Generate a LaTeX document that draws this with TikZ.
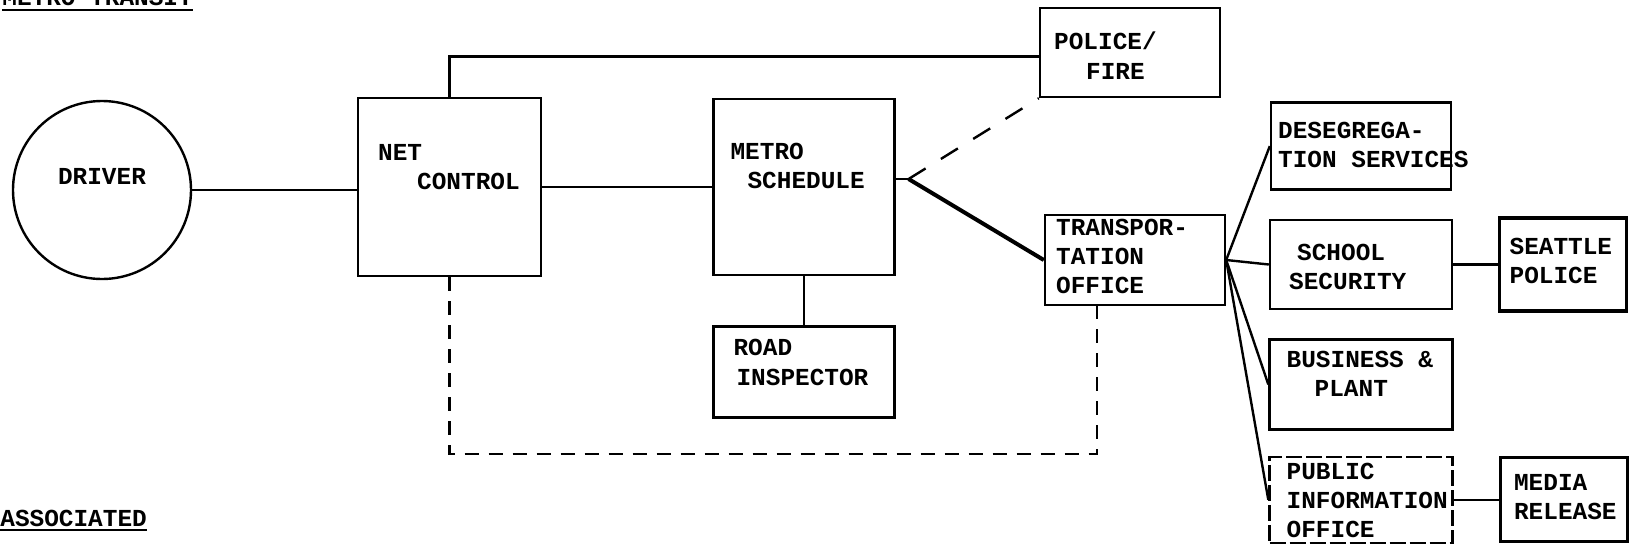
\documentclass[tikz,border=0pt]{standalone}
\usepackage{fontspec}
\setmonofont{Liberation Mono}
\usetikzlibrary{positioning}

\begin{document}
\begin{tikzpicture}[
    x=0.5pt, y=-0.5pt,
    every node/.style={font=\ttfamily\bfseries\fontsize{12.2}{14.5}\selectfont},
    box/.style={rectangle, draw, line width=1.2pt, inner sep=0pt},
    tag/.style={anchor=north west, align=left, inner sep=0pt},
    head/.style={anchor=base west, inner sep=0pt},
    link/.style={line width=1.1pt},
    heavy/.style={line width=2pt},
    dashlink/.style={line width=1.2pt, dash pattern=on 7pt off 5pt}
]
\useasboundingbox (0,0) rectangle (1630,547);

% headings
\node[head] (mt) at (2,5) {METRO TRANSIT};
\draw[link] ([yshift=-2.5pt]mt.base west) -- ([yshift=-2.5pt]mt.base east);
\node[head] (assoc) at (0,526) {ASSOCIATED};
\draw[link] ([yshift=-2pt]assoc.base west) -- ([yshift=-2pt]assoc.base east);

% metro side
\node[box, circle, minimum size=89pt, text depth=14pt] (driver) at (102,190) {DRIVER};
\node[box, minimum width=91.5pt, minimum height=89pt,
    label={[tag, xshift=10.5pt, yshift=-23.8pt]north west:NET\\\hspace*{19.5pt}CONTROL}] (netctl) at (449.5,187) {};
\node[box, minimum width=90.5pt, minimum height=88pt, right=85pt of netctl,
    label={[tag, xshift=9pt, yshift=-22.5pt]north west:METRO\\\hspace*{8.5pt}SCHEDULE}] (metro) {};
\node[box, minimum width=90.5pt, minimum height=45.5pt, below=24.5pt of metro,
    label={[tag, xshift=10.5pt, yshift=-6.8pt]north west:ROAD\\[0.5pt]\hspace*{1.5pt}INSPECTOR}] (road) {};
\node[box, minimum width=90pt, minimum height=44.5pt,
    label={[tag, xshift=7.5pt, yshift=-12.3pt]north west:POLICE/\\[0.5pt]\hspace*{16pt}FIRE}] (police) at (1130,52.5) {};
\node[box, minimum width=90pt, minimum height=45pt,
    label={[tag, xshift=6pt, yshift=-2.3pt]north west:TRANSPOR-\\TATION\\OFFICE}] (transp) at (1135,260) {};

% school district side
\node[box, minimum width=91pt, minimum height=44.5pt,
    label={[tag, xshift=10pt, yshift=-12.3pt]north west:\hspace*{4pt}SCHOOL\\SECURITY}] (school) at (1361,264.5) {};
\node[box, minimum width=90pt, minimum height=43.5pt, above=14pt of school,
    label={[tag, xshift=4pt, yshift=-10.3pt]north west:DESEGREGA-\\TION SERVICES}] (deseg) {};
\node[box, minimum width=91.5pt, minimum height=45pt, below=14pt of school,
    label={[tag, xshift=9pt, yshift=-6.3pt]north west:BUSINESS \&\\\hspace*{14pt}PLANT}] (business) {};
\node[box, minimum width=91.5pt, minimum height=43pt, below=12.5pt of business, dash pattern=on 8pt off 2pt,
    label={[tag, xshift=9pt, yshift=-3.8pt]north west:PUBLIC\\INFORMATION\\OFFICE}] (public) {};
\node[box, line width=1.6pt, minimum width=63.5pt, minimum height=46.5pt, right=22.5pt of school,
    label={[tag, xshift=5.5pt, yshift=-10.8pt]north west:SEATTLE\\POLICE}] (seattle) {};
\node[box, line width=1.6pt, minimum width=63.5pt, minimum height=42pt, right=22.5pt of public,
    label={[tag, xshift=7.5pt, yshift=-8.8pt]north west:MEDIA\\RELEASE}] (media) {};

\coordinate (tap) at ([xshift=6.5pt, yshift=4pt]metro.east);

\draw[link] (driver.east) -- (driver.east -| netctl.west);
\draw[link] (netctl.east) -- (netctl.east -| metro.west);
\draw[link] (netctl.north) |- ([yshift=-2pt]police.west);
\draw[link] (metro.south) -- (road.north);
\draw[link] (metro.east |- tap) -- (tap);
\draw[heavy] (tap) -- (transp.west);
\draw[dashlink, dash pattern=on 10pt off 9pt] (tap) -- (police.south west);
\draw[dashlink] (netctl.south) -- ++(0,-88.5pt) -| ([xshift=-19pt]transp.south);

\foreach \dept in {deseg, school, business, public}
    \draw[link, line width=1.2pt] (transp.east) -- (\dept.west);
\draw[link] (school.east) -- (school.east -| seattle.west);
\draw[link] (public.east) -- (public.east -| media.west);

\end{tikzpicture}
\end{document}
